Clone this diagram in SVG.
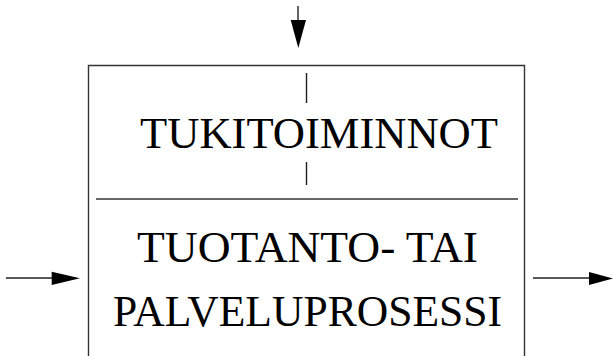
<svg xmlns="http://www.w3.org/2000/svg" width="613" height="356" viewBox="0 0 613 356">
<style>
.ln{stroke:#222;stroke-width:1.4;fill:none}
.bx{stroke:#333;stroke-width:1.4;fill:none}
.hd{fill:#000;stroke:none}
.t{font-family:"Liberation Serif","Times New Roman",serif;font-size:44px;fill:#000}
</style>
<rect width="613" height="356" fill="#fff"/>
<g id="process-box">
<path class="bx" d="M88.5 356 V65.5 H524.5 V356"/>
<line class="bx" x1="96" y1="199" x2="518" y2="199"/>
</g>
<g id="tukitoiminnot">
<text class="t" x="140" y="148" textLength="358" lengthAdjust="spacingAndGlyphs">TUKITOIMINNOT</text>
</g>
<g id="prosessi">
<text class="t" x="137" y="262" textLength="341" lengthAdjust="spacingAndGlyphs">TUOTANTO- TAI</text>
<text class="t" x="113" y="326" textLength="389" lengthAdjust="spacingAndGlyphs">PALVELUPROSESSI</text>
</g>
<g id="connectors">
<line class="ln" x1="306.5" y1="73" x2="306.5" y2="103"/>
<line class="ln" x1="306.5" y1="162" x2="306.5" y2="185"/>
<line class="ln" x1="298" y1="6" x2="298" y2="22"/>
<polygon class="hd" points="290.7,20 306,20 298.3,48"/>
<line class="ln" x1="6" y1="278" x2="54" y2="278"/>
<polygon class="hd" points="51.7,271.7 51.7,285 80,278.3"/>
<line class="ln" x1="533" y1="278" x2="591" y2="278"/>
<polygon class="hd" points="589,272 589,285 613,278.5"/>
</g>
</svg>
